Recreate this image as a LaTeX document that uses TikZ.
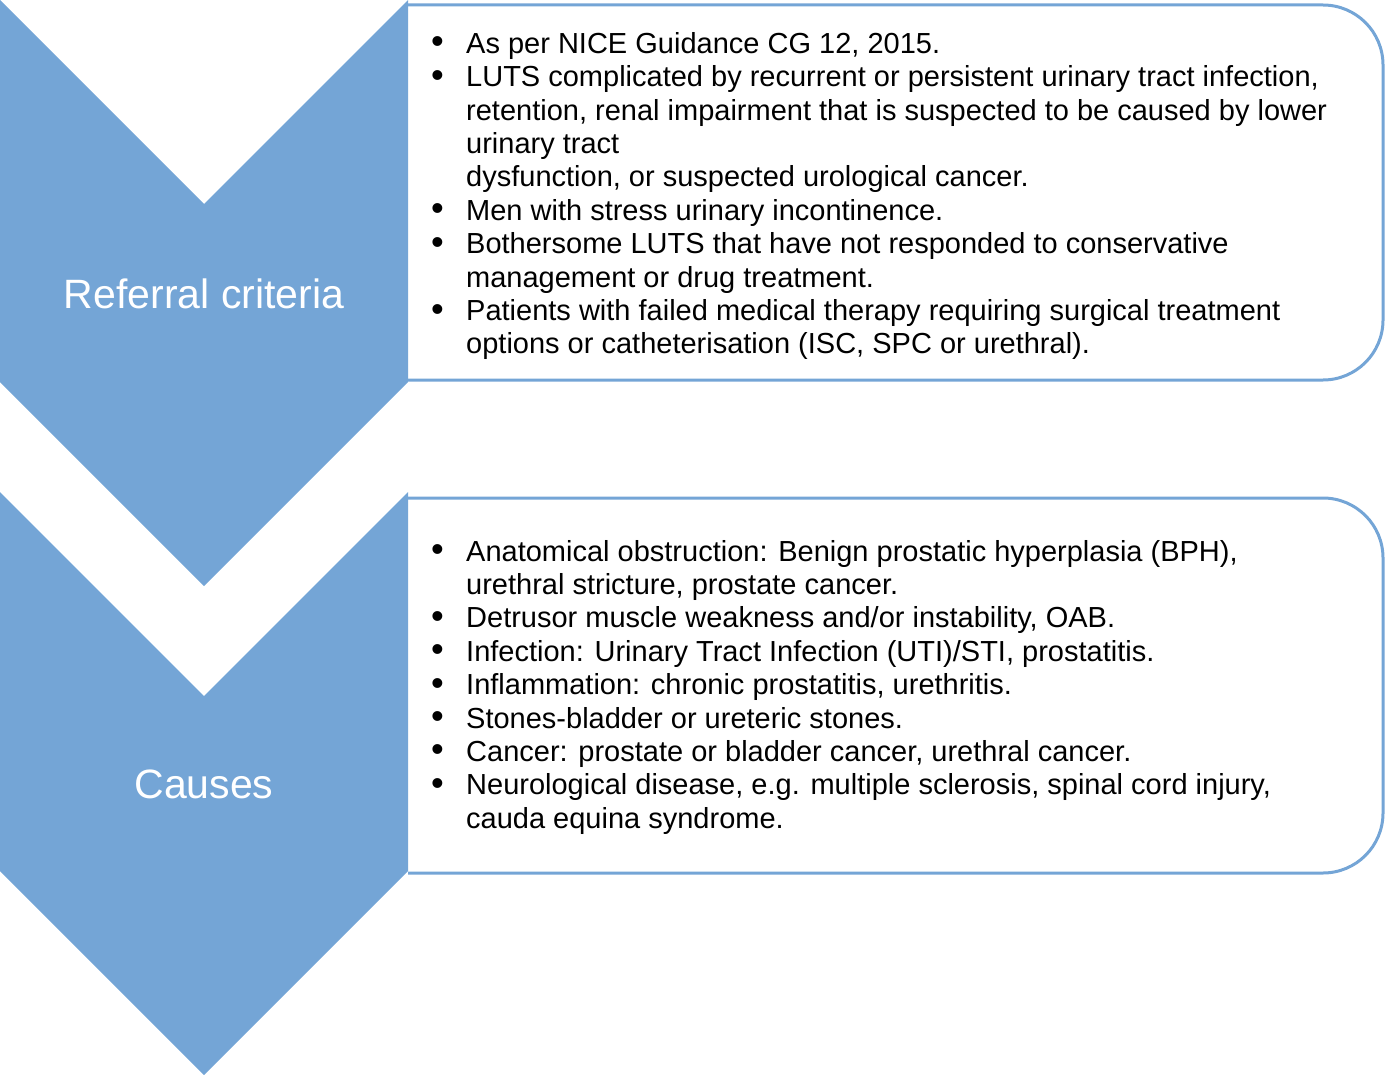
\documentclass[tikz,border=0pt]{standalone}
\usepackage{fontspec}
\setmainfont{Liberation Sans}
\definecolor{chevblue}{RGB}{116,165,214}
\tikzset{
  chevron/.style={fill=chevblue, draw=none},
  panel/.style={draw=chevblue, line width=3pt, fill=white, rounded corners=60pt},
  title/.style={text=white, font=\fontsize{41}{48}\selectfont, anchor=base, inner sep=0pt},
  bullets/.style={anchor=west, inner sep=0pt, font=\fontsize{29}{33.4}\selectfont}
}
\newcommand{\bul}{\makebox[35pt][l]{\raisebox{-0.5pt}{\scalebox{1.25}{\textbullet}}}}
\begin{document}
\begin{tikzpicture}[x=1pt,y=-1pt]
\useasboundingbox (0,0) rectangle (1388,1075);
% panels
\draw[panel] (408,5) -- (1383,5) -- (1383,380) -- (408,380);
\draw[panel] (408,498) -- (1383,498) -- (1383,873) -- (408,873);
% chevrons
\fill[chevron] (0,0) -- (204,204) -- (408,0) -- (408,382) -- (204,586) -- (0,382) -- cycle;
\fill[chevron] (0,492) -- (204,696) -- (408,492) -- (408,871) -- (204,1075) -- (0,871) -- cycle;
\node[title] (t1) at (204,308) {Referral criteria};
\node[title] (t2) at (204,798) {Causes};
\node[bullets] (b1) at (431,197) {\begin{tabular}{@{}l@{}l@{}}
\bul & As per NICE Guidance CG 12, 2015.\\
\bul & LUTS complicated by recurrent or persistent urinary tract infection,\\
 & retention, renal impairment that is suspected to be caused by lower\\
 & urinary tract\\
 & dysfunction, or suspected urological cancer.\\
\bul & Men with stress urinary incontinence.\\
\bul & Bothersome LUTS that have not responded to conservative\\
 & management or drug treatment.\\
\bul & Patients with failed medical therapy requiring surgical treatment\\
 & options or catheterisation (ISC, SPC or urethral).
\end{tabular}};
\node[bullets] (b2) at (431,688) {\begin{tabular}{@{}l@{}l@{}}
\bul & Anatomical obstruction: Benign prostatic hyperplasia (BPH),\\
 & urethral stricture, prostate cancer.\\
\bul & Detrusor muscle weakness and/or instability, OAB.\\
\bul & Infection: Urinary Tract Infection (UTI)/STI, prostatitis.\\
\bul & Inflammation: chronic prostatitis, urethritis.\\
\bul & Stones-bladder or ureteric stones.\\
\bul & Cancer: prostate or bladder cancer, urethral cancer.\\
\bul & Neurological disease, e.g. multiple sclerosis, spinal cord injury,\\
 & cauda equina syndrome.
\end{tabular}};
\end{tikzpicture}
\end{document}
